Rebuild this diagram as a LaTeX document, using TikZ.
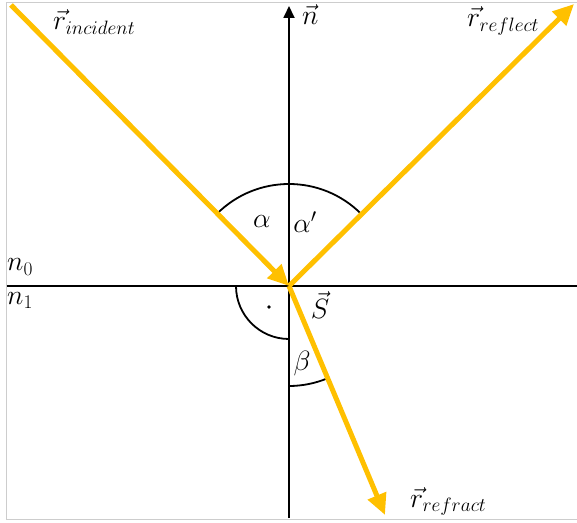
\documentclass[tikz,border=0pt]{standalone}
\usetikzlibrary{arrows.meta}
\definecolor{ray}{RGB}{255,192,0}
\definecolor{frame}{RGB}{205,205,205}
\begin{document}
\begin{tikzpicture}[x=1pt,y=1pt,
  rayline/.style={draw=ray,line width=5pt,-{Triangle[length=21pt,width=19pt]}},
  axis/.style={draw=black,line width=1.8pt},
  anglearc/.style={draw=black,line width=1.8pt},
  lbl/.style={inner sep=0pt,scale=1.12,font=\fontsize{23}{28}\selectfont}]
\useasboundingbox (0,0) rectangle (577,522);
% frame
\draw[frame,line width=1pt] (577,519) -- (6.5,519) -- (6.5,3) -- (577,3);
% coordinates
\coordinate (S) at (289,236);
\coordinate (nb) at (289,4);
\coordinate (nt) at (289,516);
\coordinate (hl) at (6.5,236);
\coordinate (hr) at (577,236);
\coordinate (inc) at (11,517);
\coordinate (refl) at (574,518);
\coordinate (refr) at (385,7);
% axes
\draw[axis] (hl) -- (hr);
\draw[axis,-{Triangle[length=12pt,width=11pt]}] (nb) -- (nt);
% arcs
\draw[anglearc] ([shift={(45:102pt)}]S) arc[start angle=45,end angle=135,radius=102pt];
\draw[anglearc] ([shift={(180:53pt)}]S) arc[start angle=180,end angle=270,radius=53pt];
\draw[anglearc] ([shift={(270:100pt)}]S) arc[start angle=270,end angle=292.7,radius=100pt];
\fill (269,215) circle[radius=1.8pt] coordinate (dot);
% rays
\draw[rayline] (inc) -- (S);
\draw[rayline] (S) -- (refl);
\draw[rayline] (S) -- (refr);
% labels
\node[lbl,anchor=base west] (linc) at (53,492) {$\vec{r}_{incident}$};
\node[lbl,anchor=base west] (lrefl) at (467,495) {$\vec{r}_{reflect}$};
\node[lbl,anchor=base west] (lrefr) at (410,15) {$\vec{r}_{refract}$};
\node[lbl,anchor=base west] (ln) at (302,497) {$\vec{n}$};
\node[lbl,anchor=base west] (ln0) at (7,251) {$n_0$};
\node[lbl,anchor=base west] (ln1) at (7,218) {$n_1$};
\node[lbl] (la) at (262,300) {$\alpha$};
\node[lbl] (lap) at (305,300) {$\alpha'$};
\node[lbl] (lS) at (320,217) {$\vec{S}$};
\node[lbl] (lb) at (302,158) {$\beta$};
\end{tikzpicture}
\end{document}
